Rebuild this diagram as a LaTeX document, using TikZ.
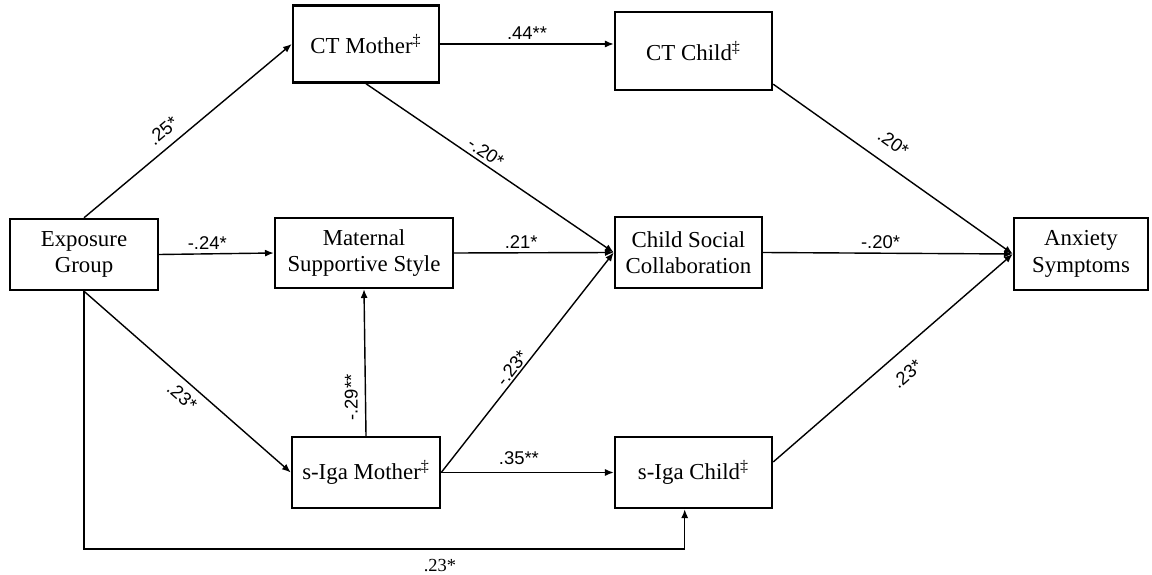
\documentclass[tikz,border=0pt]{standalone}
\usepackage{fontspec}
\setmainfont{Liberation Serif}
\setsansfont{Liberation Sans}
\usetikzlibrary{arrows.meta,positioning}

\begin{document}
\begin{tikzpicture}[>={Latex[length=5pt,width=4pt]},
  box/.style={draw, line width=1.4pt, align=center, inner sep=2pt,
              font=\fontsize{13}{15}\selectfont},
  path/.style={->, line width=0.8pt},
  coef/.style={font=\sffamily\fontsize{10.5}{12}\selectfont, inner sep=2pt}]

  \useasboundingbox (0,0) rectangle (23.04,-11.5);

  % ============================================================
  % VARIABLES
  % ============================================================
  \node[box, minimum width=2.96cm, minimum height=1.42cm]
    (expo) at (1.68,-5.09) {Exposure\\Group};

  \node[box, minimum width=2.92cm, minimum height=1.54cm]
    (ctmom) at (7.32,-0.88) {CT Mother\textsuperscript{\ddag}};
  \node[box, minimum width=3.14cm, minimum height=1.56cm]
    (ctchild) at (13.87,-1.02) {CT Child\textsuperscript{\ddag}};

  \node[box, minimum width=3.56cm, minimum height=1.40cm]
    (msstyle) at (7.28,-5.06) {Maternal\\Supportive Style};
  \node[box, minimum width=2.94cm, minimum height=1.42cm]
    (csc) at (13.77,-5.05) {Child Social\\Collaboration};
  \node[box, minimum width=2.68cm, minimum height=1.44cm]
    (anx) at (21.62,-5.08) {Anxiety\\Symptoms};

  \node[box, minimum width=2.96cm, minimum height=1.42cm]
    (igamom) at (7.32,-9.45) {s-Iga Mother\textsuperscript{\ddag}};
  \node[box, minimum width=3.14cm, minimum height=1.42cm]
    (igachild) at (13.87,-9.45) {s-Iga Child\textsuperscript{\ddag}};

  % corner of the long path under the figure
  \coordinate (bend) at (1.68,-10.98);

  % ============================================================
  % PATHS
  % ============================================================
  % from exposure group
  \draw[path] (expo.north) -- node[coef, sloped, above, pos=0.43, inner sep=5pt] (c1) {.25*} (ctmom.west);
  \draw[path] (expo.east) -- node[coef, above, pos=0.42] (c2) {-.24*} (msstyle.west);
  \draw[path] (expo.south) -- node[coef, sloped, below, pos=0.52, inner sep=4pt] (c3) {.23*} (igamom.west);
  \draw[path] (expo.south) -- (bend) -| ([xshift=-5pt]igachild.south);
  \node[coef, font=\fontsize{10.5}{12}\selectfont] (c4) at (8.8,-11.32) {.23*};

  % mothers
  \draw[path] (ctmom.east) -- node[coef, above] (c5) {.44**} (ctmom.east -| ctchild.west);
  \draw[path] (ctmom.south) -- node[coef, sloped, above, pos=0.46] (c6) {-.20*} (csc.west);
  \draw[path] (msstyle.east) -- node[coef, above, pos=0.42] (c7) {.21*} (csc.west);
  \draw[path] (igamom.north) -- node[coef, rotate=90, anchor=south, pos=0.26, inner sep=4pt] (c8) {-.29**} (msstyle.south);
  \draw[path] (igamom.east) -- node[coef, sloped, above, pos=0.45, inner sep=1pt] (c9) {-.23*} (csc.west);
  \draw[path] (igamom.east) -- node[coef, above, pos=0.45, inner sep=4pt] (c10) {.35**} (igachild.west);

  % to anxiety symptoms
  \draw[path] ([yshift=4pt]ctchild.south east) -- node[coef, sloped, above, pos=0.45, inner sep=8pt] (c11) {.20*} (anx.west);
  \draw[path] (csc.east) -- node[coef, above, pos=0.47] (c12) {-.20*} (anx.west);
  \draw[path] ([yshift=6pt]igachild.east) -- node[coef, sloped, below, pos=0.5, inner sep=8pt] (c13) {.23*} (anx.west);

\end{tikzpicture}
\end{document}
